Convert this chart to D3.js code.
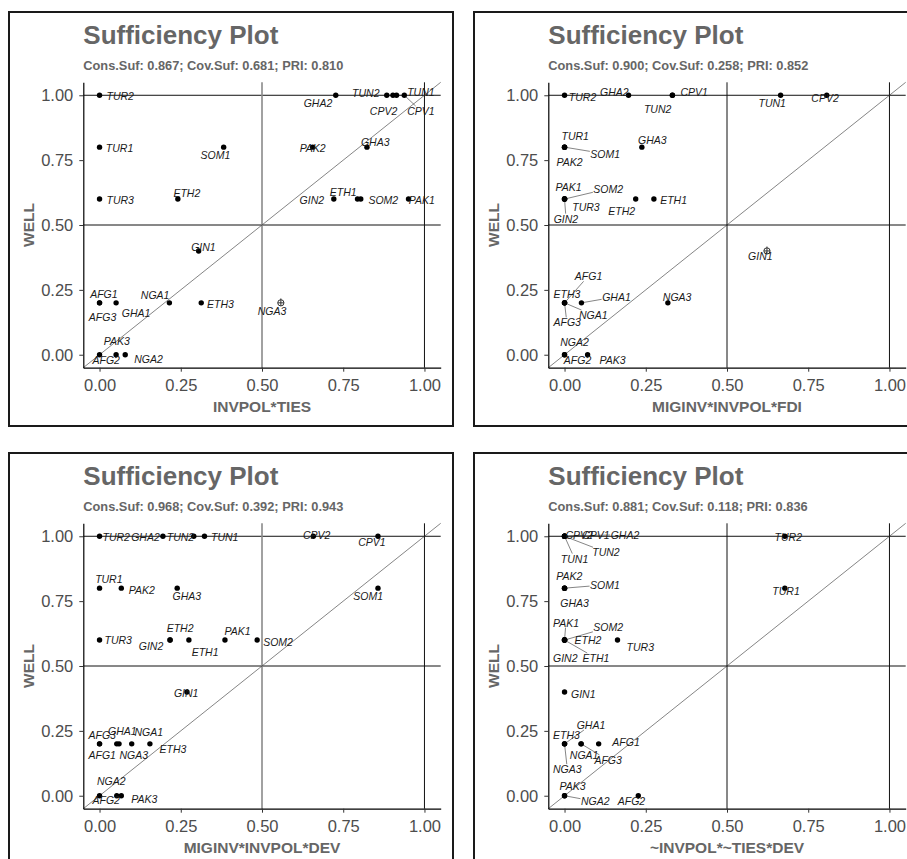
<!DOCTYPE html>
<html>
<head>
<meta charset="utf-8">
<script src="https://cdn.jsdelivr.net/npm/d3@7"></script>
<style>
  body { margin: 0; background: #fff; }
  svg { display: block; }
  text { font-family: "Liberation Sans", Arial, Helvetica, sans-serif; }
</style>
</head>
<body>
<svg id="chart" width="907" height="859"></svg>
<script>
// ---- data -------------------------------------------------------------
const cases = ["AFG1","AFG2","AFG3","CPV1","CPV2","ETH1","ETH2","ETH3","GHA1","GHA2",
               "GHA3","GIN1","GIN2","NGA1","NGA2","NGA3","PAK1","PAK2","PAK3","SOM1",
               "SOM2","TUN1","TUN2","TUR1","TUR2","TUR3"];

// outcome membership (WELL)
const well = [0.2, 0, 0.2, 1, 1, 0.6, 0.6, 0.2, 0.2, 1,
              0.8, 0.4, 0.6, 0.2, 0, 0.2, 0.6, 0.8, 0, 0.8,
              0.6, 1, 1, 0.8, 1, 0.6];

// membership in each sufficient term
const invpolTies = [0, 0, 0, 0.938, 0.903, 0.794, 0.241, 0.313, 0.051, 0.727,
                    0.823, 0.305, 0.721, 0.215, 0.079, 0.558, 0.951, 0.656, 0.051, 0.382,
                    0.804, 0.914, 0.884, 0, 0, 0];
const miginvInvpolFdi = [0, 0, 0, 0.332, 0.807, 0.275, 0.219, 0, 0.052, 0.197,
                         0.238, 0.623, 0, 0, 0, 0.318, 0, 0, 0.071, 0,
                         0, 0.665, 0.332, 0, 0, 0];
const miginvInvpolDev = [0, 0, 0, 0.857, 0.658, 0.275, 0.217, 0.155, 0.053, 0.195,
                         0.239, 0.269, 0.217, 0.099, 0.053, 0.06, 0.386, 0.067, 0.067, 0.857,
                         0.485, 0.323, 0.29, 0, 0, 0];
const notInvpolNotTiesDev = [0.105, 0.227, 0.051, 0, 0, 0, 0, 0, 0, 0,
                             0, 0, 0, 0.051, 0, 0, 0, 0, 0, 0,
                             0, 0, 0, 0.678, 0.678, 0.163];

const terms   = ["INVPOL*TIES", "MIGINV*INVPOL*FDI", "MIGINV*INVPOL*DEV", "~INVPOL*~TIES*DEV"];
const termX   = [invpolTies, miginvInvpolFdi, miginvInvpolDev, notInvpolNotTiesDev];
const consSuf = [0.867, 0.900, 0.968, 0.881];
const covSuf  = [0.681, 0.258, 0.392, 0.118];
const pri     = [0.810, 0.852, 0.943, 0.836];
const tickValues = [0, 0.25, 0.5, 0.75, 1];

// ---- label placement (pixel nudges from each point; 1 = draw leader) ----
const labelNudge = [
  { TUR2:[20.7,1], TUR1:[20,1], TUR3:[20.7,1], AFG1:[4.3,-8.8], AFG3:[3,14], GHA1:[20,10.5],
    NGA1:[-14.3,-7.5], ETH3:[19.2,1.2], NGA3:[-8.8,8], GIN1:[4.8,-4], ETH2:[9,-6], SOM1:[-8.3,7.4],
    PAK2:[0,0.5], GHA3:[8.3,-5.3], GIN2:[-22,1.2], ETH1:[-14.3,-7], SOM2:[22.5,1.2], PAK1:[13.3,1.2],
    GHA2:[-17.8,8], TUN2:[-21,-2.3], CPV2:[-9.4,15.7], TUN1:[24.4,-3], CPV1:[16.6,15.7,1],
    PAK3:[0.7,-13.7], AFG2:[6.7,5.3], NGA2:[23.3,4.3] },
  { TUR2:[18,2], GHA2:[-14.2,-3.3], CPV1:[21.8,-3.3], TUN2:[-14.8,14], TUN1:[-8.4,8], CPV2:[-1.7,2.7],
    TUR1:[10.7,-11.6], SOM1:[40.7,6.7,1], PAK2:[5,14.7], GHA3:[10.4,-7], PAK1:[4,-12],
    SOM2:[43.7,-10.4,1], TUR3:[21.4,8], GIN2:[1.4,19.6,1], ETH2:[-14,11.6], ETH1:[19.7,1.2],
    GIN1:[-6.6,5], AFG1:[24,-26.5,1], ETH3:[2.4,-9.1], GHA1:[35,-6.1,1], NGA1:[28.7,12.2,1],
    AFG3:[2.7,19.5,1], NGA3:[9.3,-6.1], NGA2:[10,-13], AFG2:[13,5.3], PAK3:[25,5.3] },
  { TUR2:[16.7,0.6], GHA2:[-17.4,0.6], TUN2:[-13.3,0.6], TUN1:[20.2,0.6], CPV2:[3.3,-1.4],
    CPV1:[-6.1,5.3], TUR1:[9.3,-9.3], PAK2:[20.5,2], GHA3:[9.6,8], SOM1:[-9.8,8], TUR3:[18.7,0],
    ETH2:[10,-11.8], GIN2:[-19,6.2], ETH1:[16.2,11.9], PAK1:[12.7,-9.4], SOM2:[20.9,2.2],
    GIN1:[-0.8,1.3], AFG3:[2.7,-8.8], GHA1:[5.5,-12.8], NGA1:[17.1,-11.8], AFG1:[2.7,11.5],
    NGA3:[14.8,11.5], ETH3:[23,5.5], NGA2:[-5.5,-14.7], AFG2:[6.7,4.3], PAK3:[22.9,3.3] },
  { CPV2:[14.7,-1.7], CPV1:[31.4,-1.7,1], GHA2:[60.4,-1.7,1], TUN1:[10,22.3,1], TUN2:[41.4,16,1],
    TUR2:[3.5,0.6], PAK2:[4.7,-12], SOM1:[40.4,-3.3,1], GHA3:[10,14.7], TUR1:[1.2,2.4],
    PAK1:[1.4,-17.4,1], SOM2:[43.7,-12.7,1], ETH2:[23.4,0], GIN2:[0.7,17.6], ETH1:[31.4,18,1],
    TUR3:[22.8,7], GIN1:[18.7,1.7], GHA1:[26.4,-18.8,1], ETH3:[2,-9], NGA3:[2.7,25.3,1],
    NGA1:[3,11.2], AFG3:[27,16,1], AFG1:[27.4,-2], PAK3:[8,-9.3], NGA2:[30.7,5.7,1], AFG2:[-6.8,5.7] }
];

// ---- layout -----------------------------------------------------------
const offsets  = [[0, 0], [465, 0], [0, 441], [465, 441]];
const midColor = ["#8a8a8a", "#111", "#8a8a8a", "#111"];
const midWidth = [1.6, 1, 1.6, 1];
const plot = { left: 83.3, right: 440.7, top: 82.3, bottom: 367.7 };
const titleColor = "#666666";

const svg = d3.select("#chart");
const fmt3 = d3.format(".3f");
const fmt2 = d3.format(".2f");

terms.forEach((term, i) => {
  const [ox, oy] = offsets[i];
  const g = svg.append("g").attr("transform", `translate(${ox},${oy})`);

  // panel frame
  g.append("rect")
    .attr("x", 9).attr("y", 12).attr("width", 444).attr("height", 414)
    .attr("fill", "none").attr("stroke", "#1a1a1a").attr("stroke-width", 2);

  const x = d3.scaleLinear().domain([-0.05, 1.05]).range([plot.left, plot.right]);
  const y = d3.scaleLinear().domain([-0.05, 1.05]).range([plot.bottom, plot.top]);

  // titles
  g.append("text")
    .attr("x", plot.left).attr("y", 44)
    .attr("font-size", 26).attr("font-weight", "bold").attr("fill", titleColor)
    .text("Sufficiency Plot");
  g.append("text")
    .attr("x", plot.left).attr("y", 69.5)
    .attr("font-size", 12.8).attr("font-weight", "bold").attr("fill", titleColor)
    .text(`Cons.Suf: ${fmt3(consSuf[i])}; Cov.Suf: ${fmt3(covSuf[i])}; PRI: ${fmt3(pri[i])}`);

  // reference lines
  const refs = g.append("g").attr("fill", "none");
  [0.5, 1].forEach(v => {
    refs.append("line")
      .attr("x1", plot.left).attr("x2", plot.right)
      .attr("y1", y(v)).attr("y2", y(v))
      .attr("stroke", "#111").attr("stroke-width", 1);
  });
  refs.append("line")
    .attr("x1", x(0.5)).attr("x2", x(0.5)).attr("y1", plot.top).attr("y2", plot.bottom)
    .attr("stroke", midColor[i]).attr("stroke-width", midWidth[i]);
  refs.append("line")
    .attr("x1", x(1)).attr("x2", x(1)).attr("y1", plot.top).attr("y2", plot.bottom)
    .attr("stroke", "#111").attr("stroke-width", 1);
  refs.append("line")
    .attr("x1", x(-0.05)).attr("y1", y(-0.05)).attr("x2", x(1.05)).attr("y2", y(1.05))
    .attr("stroke", "#333").attr("stroke-width", 0.6);

  // axes
  const xAxis = g.append("g")
    .attr("transform", `translate(0,${plot.bottom})`)
    .call(d3.axisBottom(x).tickValues(tickValues).tickFormat(fmt2).tickSize(4).tickSizeOuter(0).tickPadding(8));
  const yAxis = g.append("g")
    .attr("transform", `translate(${plot.left},0)`)
    .call(d3.axisLeft(y).tickValues(tickValues).tickFormat(fmt2).tickSize(4).tickSizeOuter(0).tickPadding(6));
  [xAxis, yAxis].forEach(a => {
    a.select(".domain").attr("stroke", "#000").attr("stroke-width", 1.2);
    a.selectAll(".tick line").attr("stroke", "#333").attr("stroke-width", 1);
    a.selectAll(".tick text")
      .attr("fill", "#4d4d4d").attr("font-size", 16.5)
      .style("font-family", '"Liberation Sans", Arial, sans-serif');
  });

  g.append("text")
    .attr("x", (plot.left + plot.right) / 2).attr("y", 411.5)
    .attr("text-anchor", "middle")
    .attr("font-size", 15.5).attr("font-weight", "bold").attr("fill", titleColor)
    .text(term);
  g.append("text")
    .attr("transform", `translate(33.5,${(plot.top + plot.bottom) / 2}) rotate(-90)`)
    .attr("text-anchor", "middle")
    .attr("font-size", 15.5).attr("font-weight", "bold").attr("fill", titleColor)
    .text("WELL");

  // cases
  const rows = cases.map((c, k) => ({ id: c, xv: termX[i][k], yv: well[k] }));
  const typical = rows.filter(d => !(d.xv > 0.5 && d.yv < 0.5));
  const deviant = rows.filter(d => d.xv > 0.5 && d.yv < 0.5);

  const segLayer = g.append("g");

  g.append("g").selectAll("circle")
    .data(typical).join("circle")
    .attr("cx", d => x(d.xv)).attr("cy", d => y(d.yv)).attr("r", 2.7)
    .attr("fill", "#000");

  // deviant cases: open circle with cross
  const dev = g.append("g").selectAll("g")
    .data(deviant).join("g")
    .attr("transform", d => `translate(${x(d.xv)},${y(d.yv)})`)
    .attr("stroke", "#333").attr("stroke-width", 1).attr("fill", "none");
  dev.append("circle").attr("r", 3.1);
  dev.append("line").attr("x1", -3.1).attr("x2", 3.1).attr("y1", 0).attr("y2", 0);
  dev.append("line").attr("x1", 0).attr("x2", 0).attr("y1", -4.4).attr("y2", 3.1);

  const labels = g.append("g").selectAll("text")
    .data(rows).join("text")
    .attr("x", d => x(d.xv) + labelNudge[i][d.id][0])
    .attr("y", d => y(d.yv) + labelNudge[i][d.id][1])
    .attr("text-anchor", "middle")
    .attr("dominant-baseline", "central")
    .attr("font-size", 10.5).attr("font-style", "italic").attr("fill", "#1a1a1a")
    .text(d => d.id);

  // leader segments from each label box edge to its point
  labels.each(function (d) {
    const nudge = labelNudge[i][d.id];
    if (!nudge[2]) return;
    const b = this.getBBox();
    const px = x(d.xv), py = y(d.yv);
    const cx = b.x + b.width / 2, cy = b.y + b.height / 2;
    const hw = b.width / 2 + 0.5, hh = b.height / 2 - 1;
    const dx = px - cx, dy = py - cy;
    const t = Math.min(dx !== 0 ? hw / Math.abs(dx) : Infinity, dy !== 0 ? hh / Math.abs(dy) : Infinity);
    segLayer.append("line")
      .attr("x1", cx + dx * t).attr("y1", cy + dy * t)
      .attr("x2", px).attr("y2", py)
      .attr("stroke", "#333").attr("stroke-width", 0.6);
  });
});
</script>
</body>
</html>
